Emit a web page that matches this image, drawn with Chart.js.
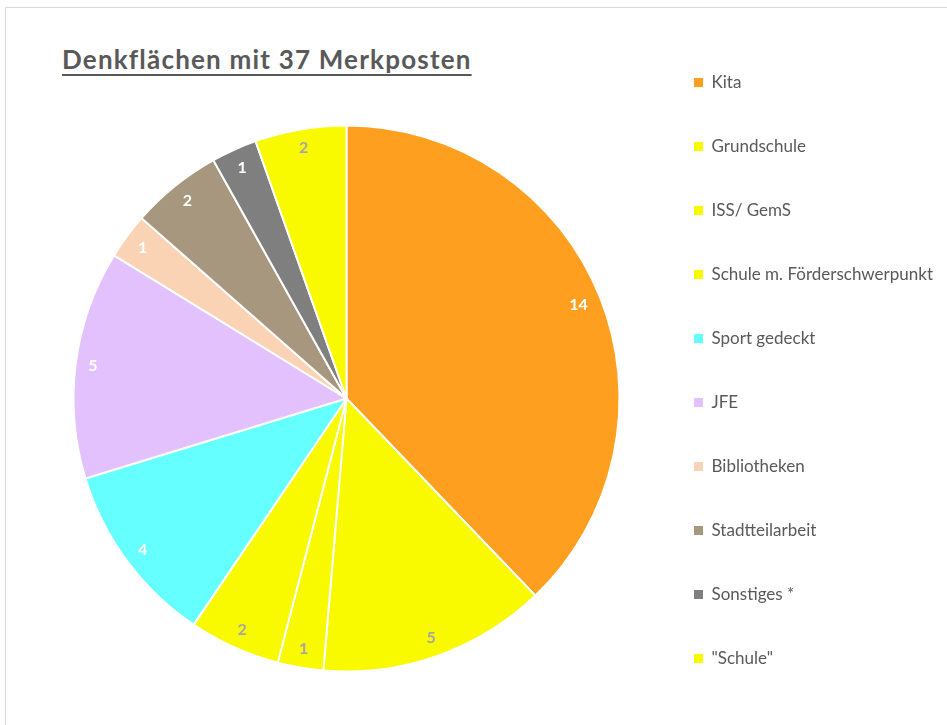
<!DOCTYPE html>
<html>
<head>
<meta charset="utf-8">
<script src="https://cdn.jsdelivr.net/npm/chart.js@4"></script>
<style>
  html, body { margin: 0; padding: 0; background: #fff; overflow: hidden; }
  #frame { position: absolute; left: 5px; top: 7px; width: 1000px; height: 800px; border: 1px solid #d9d9d9; }
  #title {
    position: absolute; left: 62px; top: 43px;
    font: bold 26px Lato, sans-serif; color: #595959; letter-spacing: 1.2px;
    text-decoration: underline; text-underline-offset: 5px; text-decoration-thickness: 2px;
    white-space: nowrap;
  }
  #chart { position: absolute; left: 0; top: 0; }
</style>
</head>
<body>
<div id="frame"></div>
<div id="title">Denkflächen mit 37 Merkposten</div>
<canvas id="chart" width="947" height="770"></canvas>
<script>
// data
const categories = ['Kita', 'Grundschule', 'ISS/ GemS', 'Schule m. Förderschwerpunkt', 'Sport gedeckt',
                    'JFE', 'Bibliotheken', 'Stadtteilarbeit', 'Sonstiges *', '"Schule"'];
const counts = [14, 5, 1, 2, 4, 5, 1, 2, 1, 2];

const sliceColors = ['#ff9f1f', '#f9f900', '#f9f900', '#f9f900', '#66ffff',
                     '#e2c1fc', '#fad3b5', '#a6977e', '#7f7f7f', '#f9f900'];
const labelColors = ['#ffffff', '#a6a6a6', '#a6a6a6', '#a6a6a6', '#ffffff',
                     '#ffffff', '#ffffff', '#ffffff', '#ffffff', '#a6a6a6'];

// value labels, placed just inside the outer edge of each slice
const valueLabels = {
    id: 'valueLabels',
    afterDatasetsDraw(chart) {
        const ctx = chart.ctx;
        const meta = chart.getDatasetMeta(0);
        ctx.save();
        ctx.font = 'bold 16px Lato, sans-serif';
        ctx.textAlign = 'center';
        ctx.textBaseline = 'middle';
        meta.data.forEach((arc, i) => {
            const p = arc.getProps(['x', 'y', 'startAngle', 'endAngle', 'outerRadius'], true);
            const mid = (p.startAngle + p.endAngle) / 2;
            const text = String(counts[i]);
            const w = ctx.measureText(text).width, h = 12;
            const cx = Math.cos(mid), cy = Math.sin(mid);
            const d = p.outerRadius - 12 - (Math.abs(cx) * w / 2 + Math.abs(cy) * h / 2);
            ctx.fillStyle = labelColors[i];
            ctx.fillText(text, p.x + cx * d, p.y + cy * d);
        });
        ctx.restore();
    }
};

const ctx = document.getElementById('chart').getContext('2d');
new Chart(ctx, {
    type: 'pie',
    data: {
        labels: categories,
        datasets: [{
            data: counts,
            backgroundColor: sliceColors,
            borderColor: '#ffffff',
            borderWidth: 2,
            radius: 273
        }]
    },
    options: {
        responsive: false,
        animation: false,
        events: [],
        layout: {
            padding: { left: 46, right: 10, top: 27, bottom: 0 }
        },
        plugins: {
            tooltip: { enabled: false },
            legend: {
                position: 'right',
                align: 'start',
                maxWidth: 290,
                labels: {
                    boxWidth: 9,
                    boxHeight: 9,
                    padding: 47,
                    color: '#595959',
                    font: { family: 'Lato, sans-serif', size: 17 },
                    generateLabels(chart) {
                        return Chart.overrides.doughnut.plugins.legend.labels.generateLabels(chart)
                            .map(l => ({ ...l, lineWidth: 0, strokeStyle: 'rgba(0,0,0,0)' }));
                    }
                }
            }
        }
    },
    plugins: [valueLabels]
});
</script>
</body>
</html>
